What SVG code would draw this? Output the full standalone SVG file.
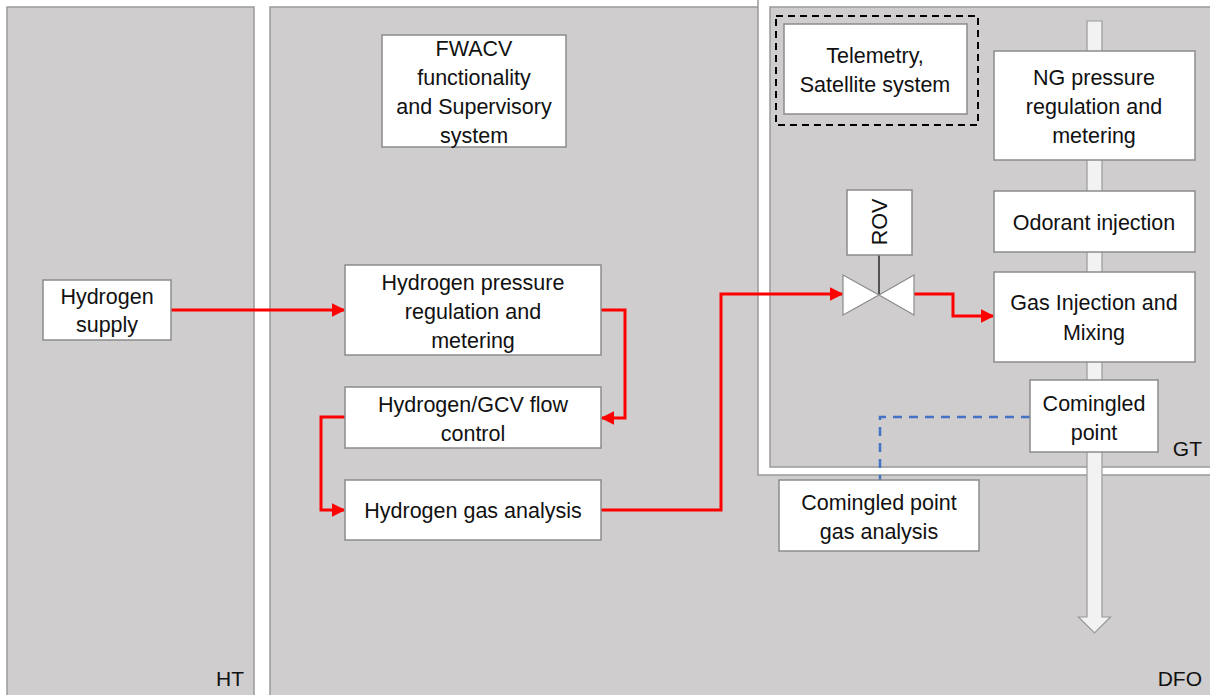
<svg xmlns="http://www.w3.org/2000/svg" width="1210" height="695" viewBox="0 0 1210 695">
  <style>
    .panel { fill: #cfcdce; stroke: #9a9a9a; stroke-width: 1.5; }
    .box { fill: #ffffff; stroke: #8c8c8c; stroke-width: 1.5; }
    .lbl { font-family: "Liberation Sans", Arial, sans-serif; font-size: 21.5px; fill: #111111; text-anchor: middle; }
    .tag { font-family: "Liberation Sans", Arial, sans-serif; font-size: 21px; fill: #111111; text-anchor: end; }
    .flow { fill: none; stroke: #ff0000; stroke-width: 3; marker-end: url(#redArrow); }
    .signal { fill: none; stroke: #4472c4; stroke-width: 2.5; stroke-dasharray: 9 7; }
  </style>
  <defs>
    <marker id="redArrow" viewBox="0 0 10 10" refX="9" refY="5" markerWidth="4.5" markerHeight="5" orient="auto" markerUnits="strokeWidth">
      <path d="M0,0 L10,5 L0,10 z" fill="#ff0000"/>
    </marker>
  </defs>

  <rect width="1210" height="695" fill="#ffffff"/>

  <!-- Organisational areas -->
  <g id="area-ht">
    <rect class="panel" x="7" y="7" width="247" height="700"/>
    <text class="tag" x="244" y="686">HT</text>
  </g>
  <g id="area-dfo">
    <rect class="panel" x="270" y="7" width="950" height="700"/>
    <text class="tag" x="1202" y="686">DFO</text>
  </g>
  <g id="area-gt">
    <rect x="758" y="-5" width="460" height="480" fill="#ffffff" stroke="#9a9a9a" stroke-width="1.5"/>
    <rect class="panel" x="770" y="7" width="450" height="460"/>
    <text class="tag" x="1202" y="456">GT</text>
  </g>

  <!-- Natural gas main pipe -->
  <g id="ng-pipe">
    <path d="M1087,21 H1102 V617 H1110.5 L1094.5,633 L1078.5,617 H1087 Z" fill="#f2f2f2" stroke="#9a9a9a" stroke-width="1.2"/>
  </g>

  <!-- Connectors -->
  <g id="connectors">
    <path class="flow" d="M171,310 H344"/>
    <path class="flow" d="M601,310 H625 V418 H602"/>
    <path class="flow" d="M345,417 H321 V510 H344"/>
    <path class="flow" d="M601,510 H721 V294 H842"/>
    <path class="flow" d="M914,294 H953 V316 H993"/>
    <path class="signal" d="M1030,417 H880 V480"/>
    <line x1="879" y1="255" x2="879" y2="295" stroke="#000000" stroke-width="1.2"/>
  </g>

  <!-- Nodes -->
  <g id="hydrogen-supply">
    <rect class="box" x="43" y="280" width="128" height="60"/>
    <text class="lbl" x="107" y="304">Hydrogen</text>
    <text class="lbl" x="107" y="332">supply</text>
  </g>
  <g id="fwacv">
    <rect class="box" x="382" y="35" width="184" height="112"/>
    <text class="lbl" x="474" y="56">FWACV</text>
    <text class="lbl" x="474" y="85">functionality</text>
    <text class="lbl" x="474" y="114">and Supervisory</text>
    <text class="lbl" x="474" y="143">system</text>
  </g>
  <g id="h2-pressure">
    <rect class="box" x="345" y="265" width="256" height="90"/>
    <text class="lbl" x="473" y="290">Hydrogen pressure</text>
    <text class="lbl" x="473" y="319">regulation and</text>
    <text class="lbl" x="473" y="348">metering</text>
  </g>
  <g id="h2-flow-control">
    <rect class="box" x="345" y="387" width="256" height="61"/>
    <text class="lbl" x="473" y="412">Hydrogen/GCV flow</text>
    <text class="lbl" x="473" y="441">control</text>
  </g>
  <g id="h2-gas-analysis">
    <rect class="box" x="345" y="480" width="256" height="60"/>
    <text class="lbl" x="473" y="518">Hydrogen gas analysis</text>
  </g>
  <g id="telemetry">
    <rect x="776" y="16" width="202" height="109" fill="none" stroke="#000000" stroke-width="2" stroke-dasharray="7 5"/>
    <rect class="box" x="784" y="24" width="183" height="90"/>
    <text class="lbl" x="875" y="63">Telemetry,</text>
    <text class="lbl" x="875" y="92">Satellite system</text>
  </g>
  <g id="ng-pressure">
    <rect class="box" x="994" y="51" width="201" height="109"/>
    <text class="lbl" x="1094" y="85">NG pressure</text>
    <text class="lbl" x="1094" y="114">regulation and</text>
    <text class="lbl" x="1094" y="143">metering</text>
  </g>
  <g id="odorant">
    <rect class="box" x="994" y="191" width="201" height="61"/>
    <text class="lbl" x="1094" y="230">Odorant injection</text>
  </g>
  <g id="gas-injection">
    <rect class="box" x="994" y="272" width="201" height="90"/>
    <text class="lbl" x="1094" y="310">Gas Injection and</text>
    <text class="lbl" x="1094" y="340">Mixing</text>
  </g>
  <g id="comingled-point">
    <rect class="box" x="1030" y="380" width="128" height="72"/>
    <text class="lbl" x="1094" y="411">Comingled</text>
    <text class="lbl" x="1094" y="440">point</text>
  </g>
  <g id="comingled-analysis">
    <rect class="box" x="779" y="480" width="200" height="71"/>
    <text class="lbl" x="879" y="510">Comingled point</text>
    <text class="lbl" x="879" y="539">gas analysis</text>
  </g>
  <g id="rov">
    <rect class="box" x="847" y="190" width="65" height="65"/>
    <text class="lbl" transform="translate(887,222) rotate(-90)" x="0" y="0">ROV</text>
  </g>
  <g id="valve">
    <path d="M843,275 L879,295 L843,315 Z M914,275 L879,295 L914,315 Z" fill="#ffffff" stroke="#8c8c8c" stroke-width="1.2"/>
  </g>
</svg>
